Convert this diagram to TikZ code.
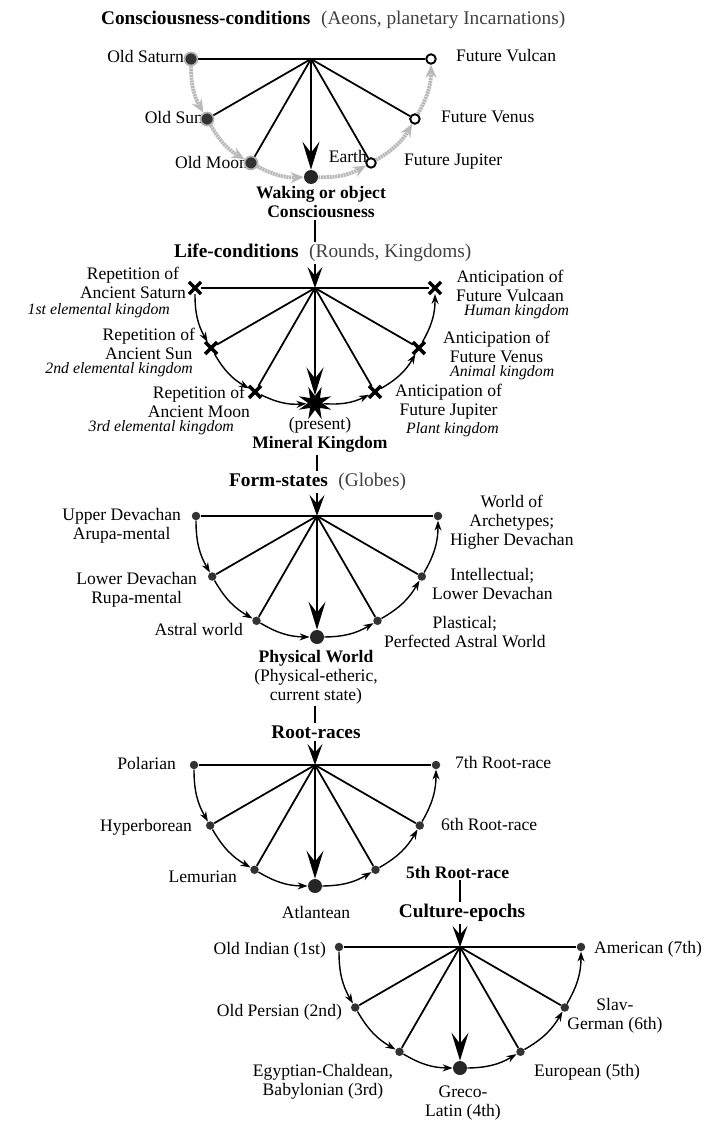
\documentclass[tikz,border=0pt]{standalone}
\usepackage{fontspec}
\setmainfont{Liberation Serif}
\usetikzlibrary{arrows.meta,shapes.misc,shapes.geometric}

\begin{document}
\begin{tikzpicture}[x=0.02cm, y=0.02cm]
        \tikzset{title style/.style={inner sep=1pt, font=\fontsize{11}{13}\selectfont}}
        \tikzset{text style/.style={inner sep=1pt, align=center, font=\fontsize{10}{10.8}\selectfont}}
        \tikzset{bold text style/.style={text style, font=\fontsize{10}{10.8}\selectfont\bfseries}}
        \tikzset{kingdom style/.style={inner sep=1pt, font=\fontsize{9}{11}\selectfont\itshape}}
        \tikzset{dot style/.style={circle, fill=black!80, inner sep=0pt, minimum size=0.17cm}}
        \tikzset{big dot style/.style={circle, fill=black!85, inner sep=0pt, minimum size=0.28cm}}
        \tikzset{old dot style/.style={circle, fill=black!80, draw=gray!60, line width=1pt, inner sep=0pt, minimum size=0.26cm}}
        \tikzset{open dot style/.style={circle, draw, fill=white, line width=1.1pt, inner sep=0pt, minimum size=0.19cm}}
        \tikzset{cross style/.style={cross out, draw, line width=2pt, inner sep=0pt, minimum size=0.17cm}}
        \tikzset{star style/.style={star, star points=8, star point ratio=0.4, fill=black, inner sep=0pt, minimum size=0.28cm}}
        \tikzset{line style/.style={line width=1pt}}
        \tikzset{down style/.style={line width=1pt, -{Stealth[length=0.56cm, width=0.34cm, inset=0.22cm]}}}
        \tikzset{head style/.style={line width=1pt, -{Stealth[length=0.42cm, width=0.3cm, inset=0.17cm]}}}
        \tikzset{arc style/.style={line width=0.8pt, -{Stealth[length=0.2cm, width=0.14cm]}}}
        \tikzset{grey arc style/.style={line width=2.2pt, draw=gray!55, dash pattern=on 1.2pt off 0.4pt, -{Stealth[length=0.26cm, width=0.22cm, fill=gray!55]}}}

        \useasboundingbox (0,0) rectangle (720,-1125);

        % Consciousness-conditions
        \node[title style, anchor=west] (t1) at (99,-20) {\textbf{Consciousness-conditions}\hspace{6pt}\textcolor{black!75}{(Aeons, planetary Incarnations)}};
        \coordinate (h1) at (311,-59);
        \node[text style, anchor=east] (c1t) at (186,-56) {Old Saturn};
        \node[text style, anchor=east] (c2t) at (205,-117) {Old Sun};
        \node[text style, anchor=east] (c3t) at (250,-162) {Old Moon};
        \node[bold text style] (c4t) at (321,-202) {Waking or object\\Consciousness};
        \node[text style, anchor=east] (c5t) at (369,-156) {Earth};
        \node[text style, anchor=west] (c5r) at (402,-162) {Future Jupiter};
        \node[text style, anchor=west] (c6t) at (439,-117) {Future Venus};
        \node[text style, anchor=west] (c7t) at (454,-56) {Future Vulcan};
        \node[old dot style] (c1) at ([shift={(180:120)}]h1) {};
        \node[old dot style] (c2) at ([shift={(210:120)}]h1) {};
        \node[old dot style] (c3) at ([shift={(240:120)}]h1) {};
        \node[big dot style] (c4) at ([shift={(270:118)}]h1) {};
        \node[open dot style] (c5) at ([shift={(300:120)}]h1) {};
        \node[open dot style] (c6) at ([shift={(330:120)}]h1) {};
        \node[open dot style] (c7) at ([shift={(360:120)}]h1) {};
        \draw[line style] (c1) -- (c7);
        \draw[line style] (h1) -- (c2);
        \draw[line style] (h1) -- (c3);
        \draw[down style] (h1) -- (c4);
        \draw[line style] (h1) -- (c5);
        \draw[line style] (h1) -- (c6);
        \draw[grey arc style] (c1) to[bend right=15] (c2);
        \draw[grey arc style] (c2) to[bend right=15] (c3);
        \draw[grey arc style] (c3) to[bend right=15] (c4);
        \draw[grey arc style] (c4) to[bend right=15] (c5);
        \draw[grey arc style] (c5) to[bend right=15] (c6);
        \draw[grey arc style] (c6) to[bend right=15] (c7);

        % Life-conditions
        \node[title style, anchor=west] (t2) at (172,-253) {\textbf{Life-conditions}\hspace{6pt}\textcolor{black!75}{(Rounds, Kingdoms)}};
        \coordinate (h2) at (315,-288);
        \draw[line style] (c4t.south -| h2) -- (t2.north -| h2);
        \node[text style, anchor=east] (l1t) at (188,-283) {Repetition of\\Ancient Saturn};
        \node[kingdom style, anchor=east] (l1k) at (172,-311) {1st elemental kingdom};
        \node[text style, anchor=east] (l2t) at (197,-344) {Repetition of\\Ancient Sun};
        \node[kingdom style, anchor=east] (l2k) at (195,-370) {2nd elemental kingdom};
        \node[text style, anchor=east] (l3t) at (252,-402) {Repetition of\\Ancient Moon};
        \node[kingdom style, anchor=east] (l3k) at (236,-428) {3rd elemental kingdom};
        \node[text style] (l4t) at (320,-435) {(present)\\\textbf{Mineral Kingdom}};
        \node[text style, anchor=west] (l5t) at (393,-402) {Anticipation of\\Future Jupiter};
        \node[kingdom style, anchor=west] (l5k) at (404,-430) {Plant kingdom};
        \node[text style, anchor=west] (l6t) at (441,-347) {Anticipation of\\Future Venus};
        \node[kingdom style, anchor=west] (l6k) at (448,-373) {Animal kingdom};
        \node[text style, anchor=west] (l7t) at (454,-286) {Anticipation of\\Future Vulcaan};
        \node[kingdom style, anchor=west] (l7k) at (462,-312) {Human kingdom};
        \node[cross style] (l1) at ([shift={(180:120)}]h2) {};
        \node[cross style] (l2) at ([shift={(210:120)}]h2) {};
        \node[cross style] (l3) at ([shift={(240:120)}]h2) {};
        \node[star style] (l4) at ([shift={(270:115)}]h2) {};
        \node[cross style] (l5) at ([shift={(300:120)}]h2) {};
        \node[cross style] (l6) at ([shift={(330:120)}]h2) {};
        \node[cross style] (l7) at ([shift={(360:120)}]h2) {};
        \draw[head style] (t2.south -| h2) -- (h2);
        \draw[line style] (l1) -- (l7);
        \draw[line style] (h2) -- (l2);
        \draw[line style] (h2) -- (l3);
        \draw[down style] (h2) -- (l4);
        \draw[line style] (h2) -- (l5);
        \draw[line style] (h2) -- (l6);
        \draw[arc style] (l1) to[bend right=15] (l2);
        \draw[arc style] (l2) to[bend right=15] (l3);
        \draw[arc style] (l3) to[bend right=15] (l4);
        \draw[arc style] (l4) to[bend right=15] (l5);
        \draw[arc style] (l5) to[bend right=15] (l6);
        \draw[arc style] (l6) to[bend right=15] (l7);

        % Form-states
        \node[title style, anchor=west] (t3) at (227,-482) {\textbf{Form-states}\hspace{6pt}\textcolor{black!75}{(Globes)}};
        \coordinate (h3) at (317,-516);
        \draw[line style] (l4t.south -| h3) -- (t3.north -| h3);
        \node[text style, anchor=east] (f1t) at (183,-526) {Upper Devachan\\Arupa-mental};
        \node[text style, anchor=east] (f2t) at (199,-590) {Lower Devachan\\Rupa-mental};
        \node[text style, anchor=east] (f3t) at (245,-629) {Astral world};
        \node[text style] (f4t) at (316,-677) {\textbf{Physical World}\\(Physical-etheric,\\current state)};
        \node[text style, anchor=west] (f5t) at (382,-632) {Plastical;\\Perfected Astral World};
        \node[text style, anchor=west] (f6t) at (430,-584) {Intellectual;\\Lower Devachan};
        \node[text style, anchor=west] (f7t) at (448,-522) {World of\\Archetypes;\\Higher Devachan};
        \node[dot style] (f1) at ([shift={(180:121)}]h3) {};
        \node[dot style] (f2) at ([shift={(210:121)}]h3) {};
        \node[dot style] (f3) at ([shift={(240:121)}]h3) {};
        \node[big dot style] (f4) at ([shift={(270:121)}]h3) {};
        \node[dot style] (f5) at ([shift={(300:121)}]h3) {};
        \node[dot style] (f6) at ([shift={(330:121)}]h3) {};
        \node[dot style] (f7) at ([shift={(360:121)}]h3) {};
        \draw[head style] (t3.south -| h3) -- (h3);
        \draw[line style] (f1) -- (f7);
        \draw[line style] (h3) -- (f2);
        \draw[line style] (h3) -- (f3);
        \draw[down style] (h3) -- (f4);
        \draw[line style] (h3) -- (f5);
        \draw[line style] (h3) -- (f6);
        \draw[arc style] (f1) to[bend right=15] (f2);
        \draw[arc style] (f2) to[bend right=15] (f3);
        \draw[arc style] (f3) to[bend right=15] (f4);
        \draw[arc style] (f4) to[bend right=15] (f5);
        \draw[arc style] (f5) to[bend right=15] (f6);
        \draw[arc style] (f6) to[bend right=15] (f7);

        % Root-races
        \node[title style, font=\fontsize{11}{13}\selectfont\bfseries] (t4) at (316,-732) {Root-races};
        \coordinate (h4) at (315,-765);
        \draw[line style] (f4t.south -| h4) -- (t4.north -| h4);
        \node[text style, anchor=east] (r1t) at (178,-763) {Polarian};
        \node[text style, anchor=east] (r2t) at (194,-827) {Hyperborean};
        \node[text style, anchor=east] (r3t) at (239,-877) {Lemurian};
        \node[text style] (r4t) at (316,-912) {Atlantean};
        \node[bold text style, anchor=west] (r5t) at (404,-872) {5th Root-race};
        \node[text style, anchor=west] (r6t) at (439,-824) {6th Root-race};
        \node[text style, anchor=west] (r7t) at (453,-762) {7th Root-race};
        \node[dot style] (r1) at ([shift={(180:121)}]h4) {};
        \node[dot style] (r2) at ([shift={(210:121)}]h4) {};
        \node[dot style] (r3) at ([shift={(240:121)}]h4) {};
        \node[big dot style] (r4) at ([shift={(270:121)}]h4) {};
        \node[dot style] (r5) at ([shift={(300:121)}]h4) {};
        \node[dot style] (r6) at ([shift={(330:121)}]h4) {};
        \node[dot style] (r7) at ([shift={(360:121)}]h4) {};
        \draw[head style] (t4.south -| h4) -- (h4);
        \draw[line style] (r1) -- (r7);
        \draw[line style] (h4) -- (r2);
        \draw[line style] (h4) -- (r3);
        \draw[down style] (h4) -- (r4);
        \draw[line style] (h4) -- (r5);
        \draw[line style] (h4) -- (r6);
        \draw[arc style] (r1) to[bend right=15] (r2);
        \draw[arc style] (r2) to[bend right=15] (r3);
        \draw[arc style] (r3) to[bend right=15] (r4);
        \draw[arc style] (r4) to[bend right=15] (r5);
        \draw[arc style] (r5) to[bend right=15] (r6);
        \draw[arc style] (r6) to[bend right=15] (r7);

        % Culture-epochs
        \node[title style, font=\fontsize{11}{13}\selectfont\bfseries] (t5) at (462,-913) {Culture-epochs};
        \coordinate (h5) at (460,-947);
        \draw[line style] (r5t.south -| h5) -- (t5.north -| h5);
        \node[text style, anchor=east] (e1t) at (328,-950) {Old Indian (1st)};
        \node[text style, anchor=east] (e2t) at (344,-1012) {Old Persian (2nd)};
        \node[text style] (e3t) at (323,-1082) {Egyptian-Chaldean,\\Babylonian (3rd)};
        \node[text style] (e4t) at (463,-1103) {Greco-\\Latin (4th)};
        \node[text style, anchor=west] (e5t) at (532,-1072) {European (5th)};
        \node[text style] (e6t) at (615,-1016) {Slav-\\German (6th)};
        \node[text style, anchor=west] (e7t) at (592,-949) {American (7th)};
        \node[dot style] (e1) at ([shift={(180:121)}]h5) {};
        \node[dot style] (e2) at ([shift={(210:121)}]h5) {};
        \node[dot style] (e3) at ([shift={(240:121)}]h5) {};
        \node[big dot style] (e4) at ([shift={(270:121)}]h5) {};
        \node[dot style] (e5) at ([shift={(300:121)}]h5) {};
        \node[dot style] (e6) at ([shift={(330:121)}]h5) {};
        \node[dot style] (e7) at ([shift={(360:121)}]h5) {};
        \draw[head style] (t5.south -| h5) -- (h5);
        \draw[line style] (e1) -- (e7);
        \draw[line style] (h5) -- (e2);
        \draw[line style] (h5) -- (e3);
        \draw[down style] (h5) -- (e4);
        \draw[line style] (h5) -- (e5);
        \draw[line style] (h5) -- (e6);
        \draw[arc style] (e1) to[bend right=15] (e2);
        \draw[arc style] (e2) to[bend right=15] (e3);
        \draw[arc style] (e3) to[bend right=15] (e4);
        \draw[arc style] (e4) to[bend right=15] (e5);
        \draw[arc style] (e5) to[bend right=15] (e6);
        \draw[arc style] (e6) to[bend right=15] (e7);
    \end{tikzpicture}
\end{document}
